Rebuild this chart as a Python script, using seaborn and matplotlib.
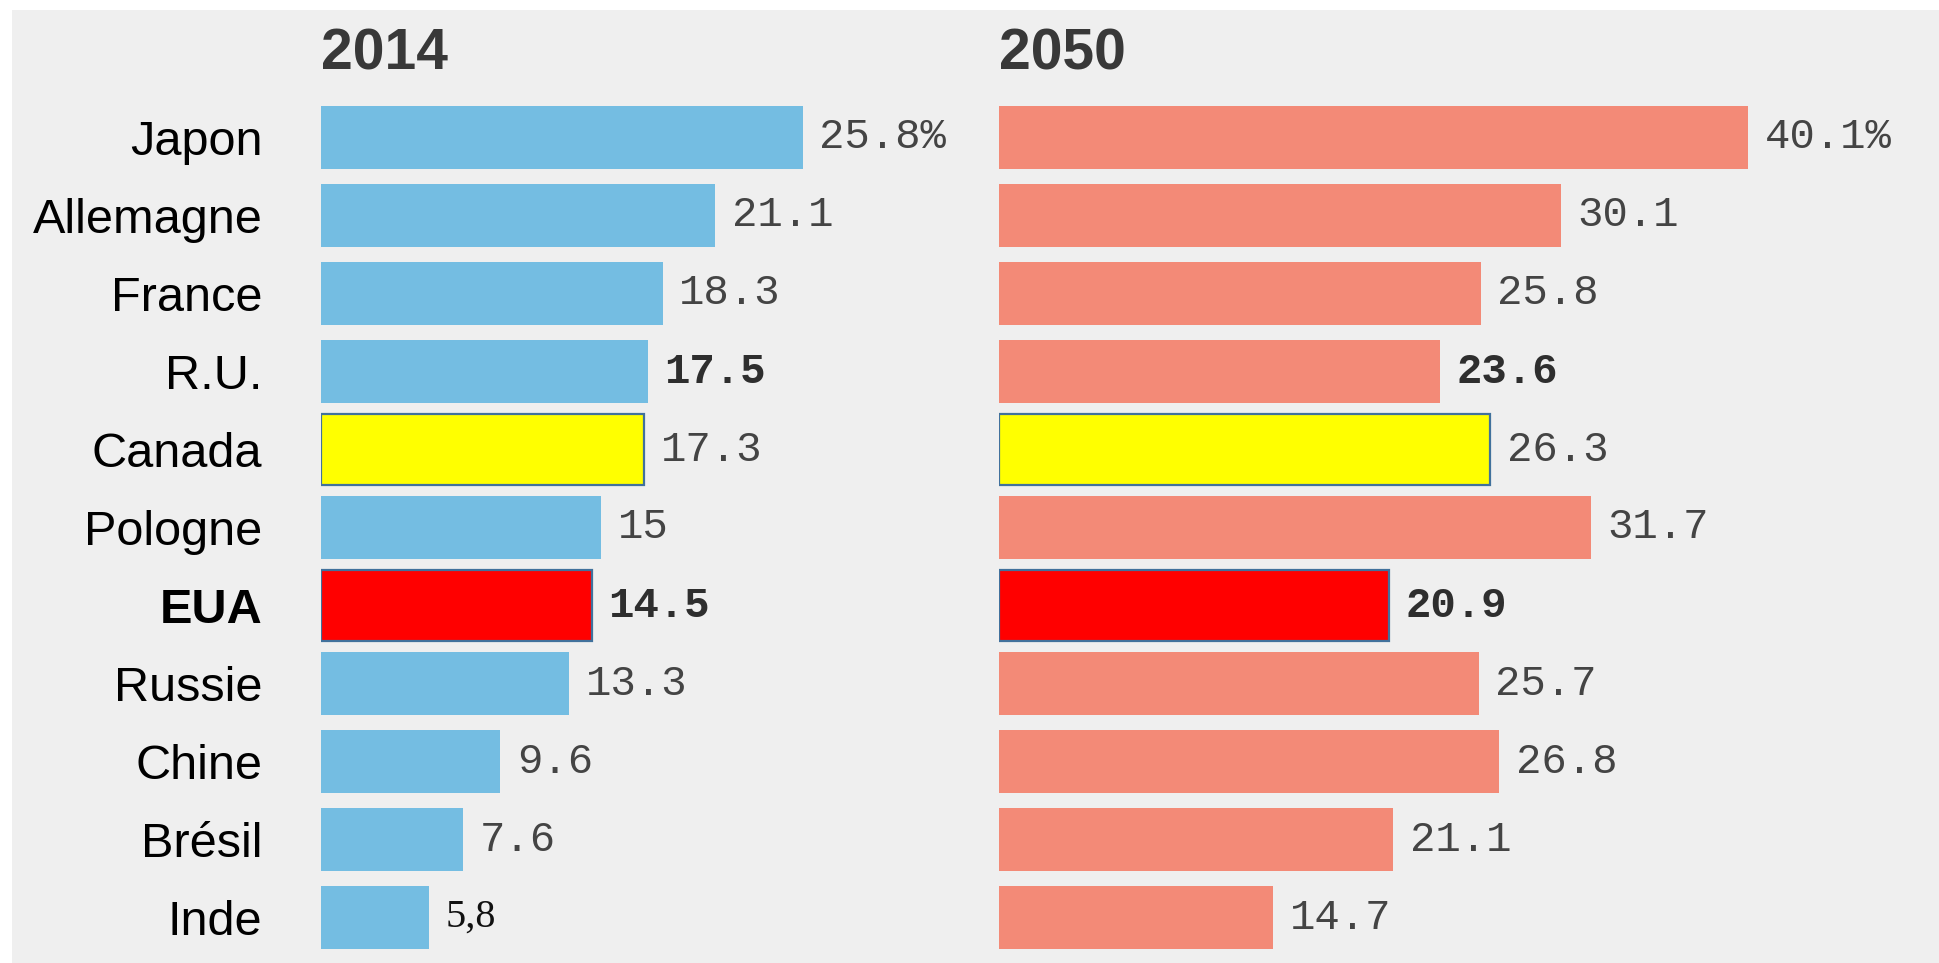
import matplotlib
matplotlib.use("Agg")
import matplotlib.pyplot as plt
from matplotlib.patches import Rectangle
import seaborn as sns
import pandas as pd

# ---------------- data ----------------
countries = ["Japon", "Allemagne", "France", "R.U.", "Canada", "Pologne",
             "EUA", "Russie", "Chine", "Brésil", "Inde"]
values_2014 = [25.8, 21.1, 18.3, 17.5, 17.3, 15.0, 14.5, 13.3, 9.6, 7.6, 5.8]
values_2050 = [40.1, 30.1, 25.8, 23.6, 26.3, 31.7, 20.9, 25.7, 26.8, 21.1, 14.7]
labels_2014 = ["25.8%", "21.1", "18.3", "17.5", "17.3", "15", "14.5",
               "13.3", "9.6", "7.6", "5,8"]
labels_2050 = ["40.1%", "30.1", "25.8", "23.6", "26.3", "31.7", "20.9",
               "25.7", "26.8", "21.1", "14.7"]
titles = ["2014", "2050"]
bold_value_countries = ["R.U.", "EUA"]
highlight_colors = {"Canada": "#ffff00", "EUA": "#ff0000"}
base_colors = ["#74bde2", "#f38a77"]

# ---------------- style ----------------
sns.set_theme(style="white")
plt.rcParams['font.family'] = ['Liberation Sans', 'DejaVu Sans']

W, H = 1939, 963
PX_PER_UNIT = 18.68
BG = "#efefef"
fig = plt.figure(figsize=(W / 100, H / 100), dpi=100, facecolor=BG)

# full grey background, then white margins (top and left) as in the reference
fig.add_artist(Rectangle((0, 0), 1, 1, transform=fig.transFigure,
                         facecolor=BG, edgecolor="none", zorder=-20))
fig.add_artist(Rectangle((0, (H - 10) / H), 1, 10 / H, transform=fig.transFigure,
                         facecolor="white", edgecolor="none", zorder=-10))
fig.add_artist(Rectangle((0, 0), 12 / W, 1, transform=fig.transFigure,
                         facecolor="white", edgecolor="none", zorder=-10))

ax_bottom = (H - 956.5) / H
ax_height = 858 / H
left_x0, right_x0 = 320.7, 998.7
ax1 = fig.add_axes([left_x0 / W, ax_bottom, (990 - left_x0) / W, ax_height])
ax2 = fig.add_axes([right_x0 / W, ax_bottom, (W - right_x0) / W, ax_height])


def panel(ax, values, labels, base_color, x0, x1, show_names):
    df = pd.DataFrame({"country": countries, "value": values})
    palette = {c: highlight_colors.get(c, base_color) for c in countries}
    sns.barplot(data=df, x="value", y="country", hue="country", palette=palette,
                legend=False, width=0.81, saturation=1, linewidth=0, ax=ax)
    for p in ax.patches:
        idx = int(round(p.get_y() + p.get_height() / 2))
        c = countries[idx]
        if c in highlight_colors:
            p.set_edgecolor("#41719C")
            p.set_linewidth(1.6)
            p.set_y(idx - 0.45)
            p.set_height(0.9)
    for i, (v, lab) in enumerate(zip(values, labels)):
        if "," in lab:
            fam, col, size = ["Liberation Serif", "DejaVu Serif"], "#111111", 29
        else:
            fam, col, size = ["Liberation Mono", "DejaVu Sans Mono"], "#444444", 30.5
        weight = "bold" if countries[i] in bold_value_countries else "normal"
        if weight == "bold":
            col = "#2e2e2e"
        ax.annotate(lab, xy=(v, i), xytext=(12, 0), textcoords="offset points",
                    ha="left", va="center", fontsize=size, family=fam,
                    color=col, fontweight=weight, annotation_clip=False)
    ax.set_xlim(0, (x1 - x0) / PX_PER_UNIT)
    ax.set_ylim(10.5, -0.5)
    ax.set_xticks([])
    ax.set_xlabel("")
    ax.set_ylabel("")
    ax.set_facecolor("none")
    for s in ax.spines.values():
        s.set_visible(False)
    if show_names:
        ax.tick_params(axis="y", length=0, pad=42, labelsize=35, labelcolor="black")
        for t in ax.get_yticklabels():
            t.set_family(["Liberation Sans", "DejaVu Sans"])
            if t.get_text() == "EUA":
                t.set_fontweight("bold")
    else:
        ax.set_yticks([])


panel(ax1, values_2014, labels_2014, base_colors[0], left_x0, 990, True)
panel(ax2, values_2050, labels_2050, base_colors[1], right_x0, W, False)

for x0, title in zip([left_x0, right_x0], titles):
    fig.text(x0 / W, (H - 69) / H, title, ha="left", va="baseline",
             fontsize=41, fontweight="bold", color="#383838",
             family=["Liberation Sans", "DejaVu Sans"])

fig.savefig("out.png", dpi=100, facecolor=BG)
